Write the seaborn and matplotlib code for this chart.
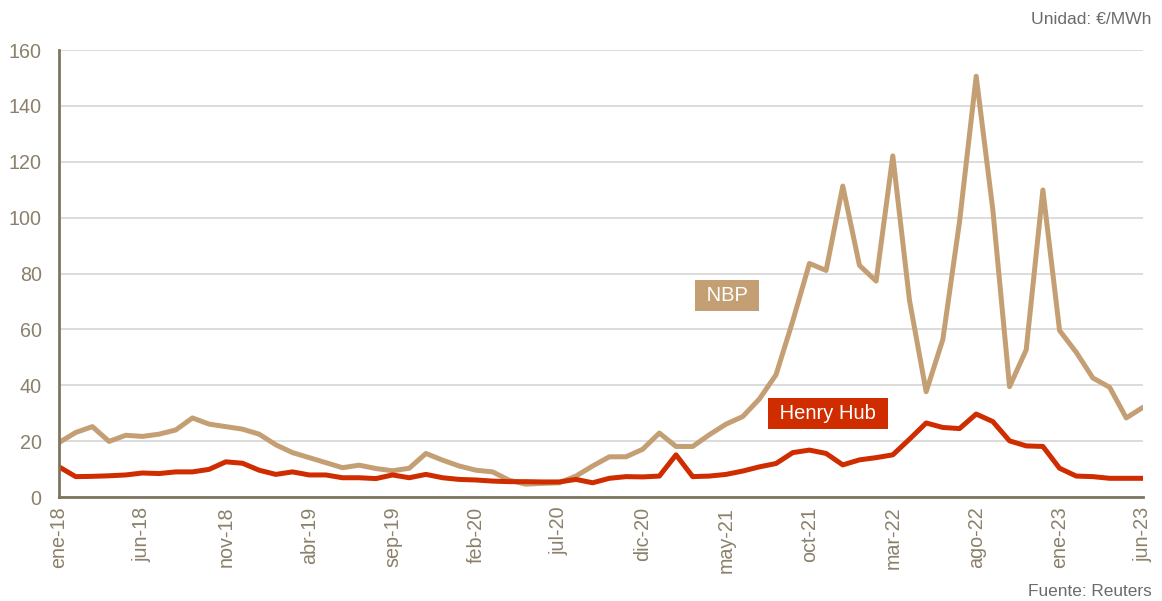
import matplotlib
matplotlib.use("Agg")
import matplotlib.pyplot as plt
import seaborn as sns
import pandas as pd
import numpy as np

# Monthly prices, ene-18 .. jun-23 (€/MWh)
months_es = ["ene", "feb", "mar", "abr", "may", "jun",
             "jul", "ago", "sep", "oct", "nov", "dic"]
years = [18, 19, 20, 21, 22, 23]

nbp = [19.5, 23.1, 25.2, 19.9, 22.1, 21.7, 22.5, 24.0, 28.3, 26.1,
       25.2, 24.3, 22.5, 18.7, 15.9, 14.1, 12.3, 10.5, 11.4, 10.2,
       9.4, 10.3, 15.6, 13.2, 11.1, 9.6, 9.0, 6.0, 4.6, 4.9,
       5.1, 7.5, 11.1, 14.4, 14.4, 17.1, 22.9, 18.1, 18.1, 22.3,
       26.1, 28.8, 35.1, 43.8, 63.0, 83.6, 81.1, 111.3, 82.9, 77.3,
       122.1, 70.4, 37.7, 56.4, 98.5, 150.6, 102.7, 39.5, 52.7, 109.9,
       59.6, 51.8, 42.6, 39.3, 28.3, 32.1]

henry_hub = [10.8, 7.3, 7.4, 7.6, 7.9, 8.6, 8.4, 9.0, 9.0, 9.9,
             12.6, 12.1, 9.6, 8.1, 9.0, 7.9, 7.9, 6.9, 6.9, 6.6,
             7.9, 6.9, 8.1, 6.9, 6.3, 6.1, 5.7, 5.5, 5.5, 5.4,
             5.4, 6.3, 5.1, 6.7, 7.3, 7.2, 7.5, 15.1, 7.3, 7.5,
             8.1, 9.3, 10.8, 12.0, 15.9, 16.8, 15.6, 11.5, 13.3, 14.1,
             15.1, 20.7, 26.5, 24.9, 24.5, 29.7, 27.0, 20.1, 18.3, 18.1,
             10.3, 7.5, 7.3, 6.7, 6.7, 6.7]

series_names = ["NBP", "Henry Hub"]
y_ticks = [0, 20, 40, 60, 80, 100, 120, 140, 160]

month_labels = [f"{m}-{y}" for y in years for m in months_es][:len(nbp)]
tick_every = 5

df = pd.concat([
    pd.DataFrame({"idx": np.arange(len(nbp)), "valor": nbp, "serie": series_names[0]}),
    pd.DataFrame({"idx": np.arange(len(henry_hub)), "valor": henry_hub, "serie": series_names[1]}),
])

TAN = "#c49f74"
RED = "#cf2c00"
TEXT = "#8a806b"
AXIS = "#7d7560"
GRID = "#d9d9d9"

sns.set_theme(style="white")
plt.rcParams["font.family"] = ["Liberation Sans", "DejaVu Sans"]

fig = plt.figure(figsize=(11.62, 6.01), dpi=100)
ax = fig.add_axes([0.0508, 0.173, 0.9328, 0.7438])

sns.lineplot(data=df, x="idx", y="valor", hue="serie",
             palette={series_names[0]: TAN, series_names[1]: RED},
             linewidth=3.6, legend=False, ax=ax, zorder=3)

ax.set_xlim(0, len(nbp) - 1)
ax.set_ylim(0, 160)
ax.set_yticks(y_ticks)
ax.set_yticklabels([str(v) for v in y_ticks], fontsize=14.2, color=TEXT)
ax.yaxis.grid(True, color=GRID, linewidth=1.3)
ax.set_axisbelow(True)

tick_pos = list(range(0, len(nbp), tick_every))
ax.set_xticks(tick_pos)
ax.set_xticklabels([month_labels[i] for i in tick_pos], rotation=90,
                   fontsize=14.2, color=TEXT)
ax.tick_params(axis="y", length=0, pad=12.5)
ax.tick_params(axis="x", length=0, pad=7)
ax.set_xlabel("")
ax.set_ylabel("")

for s in ["top", "right"]:
    ax.spines[s].set_visible(False)
for s in ["left", "bottom"]:
    ax.spines[s].set_color(AXIS)
    ax.spines[s].set_linewidth(2)
ax.spines["left"].set_zorder(4)
ax.spines["bottom"].set_zorder(4)

# Series name tags
ax.text(38.5, 72, " NBP ", fontsize=14.5, color="white", ha="left", va="center",
        bbox=dict(boxstyle="square,pad=0.3", fc=TAN, ec="none"), zorder=5)
ax.text(42.9, 29.8, " Henry Hub ", fontsize=14.5, color="white", ha="left", va="center",
        bbox=dict(boxstyle="square,pad=0.3", fc=RED, ec="none"), zorder=5)

fig.text(0.991, 0.968, "Unidad: €/MWh", ha="right", va="center",
         fontsize=12.6, color="#6b6b6b")
fig.text(0.991, 0.016, "Fuente: Reuters", ha="right", va="center",
         fontsize=12.4, color="#6b6b6b")

fig.savefig("out.png", dpi=100)
